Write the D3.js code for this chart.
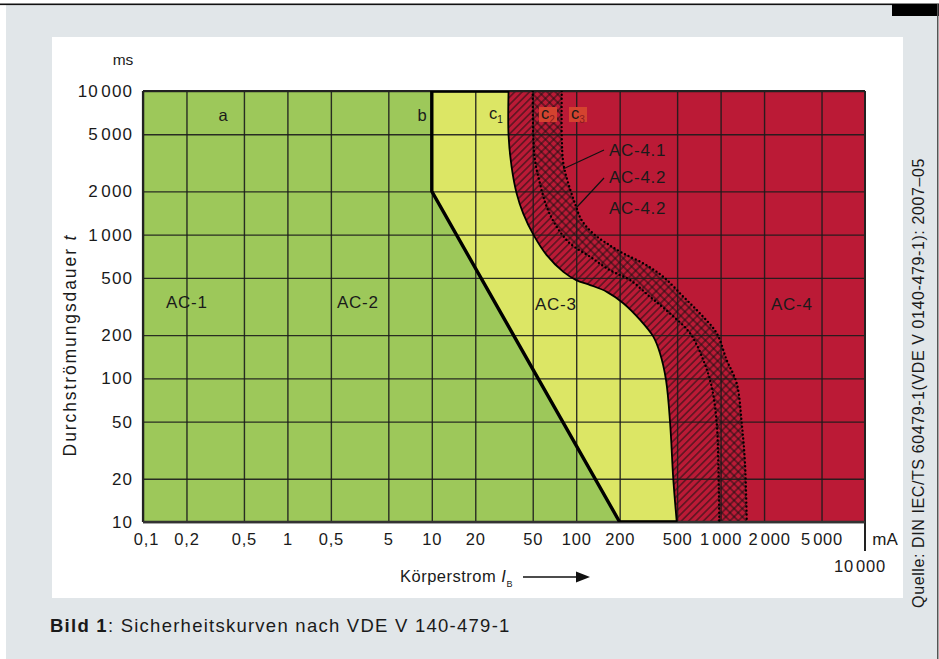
<!DOCTYPE html>
<html>
<head>
<meta charset="utf-8">
<script src="https://cdn.jsdelivr.net/npm/d3@7"></script>
<style>
body { margin: 0; background: #fff; }
svg { display: block; font-family: "Liberation Sans", Arial, sans-serif; }
</style>
</head>
<body>
<svg></svg>
<script>
// tick values and labels (the original repeats "0,5" where 2 would be)
var xTicks = [0.1, 0.2, 0.5, 1, 2, 5, 10, 20, 50, 100, 200, 500, 1000, 2000, 5000];
var xTickLabels = ["0,1", "0,2", "0,5", "1", "0,5", "5", "10", "20", "50", "100", "200", "500", "1\u200a000", "2\u200a000", "5\u200a000"];
var yTicks = [10, 20, 50, 100, 200, 500, 1000, 2000, 5000, 10000];
var yTickLabels = ["10", "20", "50", "100", "200", "500", "1\u200a000", "2\u200a000", "5\u200a000", "10\u200a000"];

// curves, [current mA, duration ms]
var curveB = [[10, 10000], [10, 2000], [200, 10]];
var curveC1 = [[34, 10000], [34, 4900], [35.7, 2960], [38.7, 1930], [43, 1400], [50.5, 1000], [62.5, 720],
	[81.5, 551], [100, 483], [125, 446], [163, 400], [212, 333], [277, 255], [342, 195], [380, 150],
	[419, 97], [447, 49], [470, 20], [497, 10]];
var curveC2 = [[50, 10000], [50.5, 4790], [51.8, 3300], [56.1, 2270], [62.5, 1560], [73.3, 1133], [90.6, 869],
	[125, 701], [171, 566], [236, 483], [324, 370], [446, 283], [614, 206], [759, 134], [867, 87.5],
	[940, 48.8], [964, 25.7], [980, 10]];
var curveC3 = [[79.4, 10000], [79.4, 4790], [81.5, 3130], [88.2, 2270], [98.1, 1648], [109, 1262], [131, 1019],
	[163, 869], [212, 740], [292, 631], [401, 509], [552, 370], [720, 283], [940, 206], [1102, 134],
	[1292, 92.5], [1400, 48.8], [1475, 25.7], [1517, 10]];

var width = 939, height = 659;
var plotLeft = 143, plotRight = 865, plotTop = 91, plotBottom = 522;
var green = "#9dc85a", yellow = "#dce665", red = "#bb1a36", grey = "#e1e6e9", ink = "#1a1a1a";

var svg = d3.select("svg").attr("width", width).attr("height", height);

var x = d3.scaleLog().domain([0.1, 10000]).range([plotLeft, plotRight]);
var y = d3.scaleLog().domain([10, 10000]).range([plotBottom, plotTop]);

drawFrame();
drawZones();
drawGrid();
drawCurves();
drawLabels();

// page background, white panel and the thin rules round it
function drawFrame() {
	svg.append("rect").attr("x", 6).attr("y", 4).attr("width", 931).attr("height", height - 4).attr("fill", grey);
	svg.append("rect").attr("x", 0).attr("y", 3.5).attr("width", width).attr("height", 1.6).attr("fill", "#111");
	svg.append("rect").attr("x", 892).attr("y", 4).attr("width", 47).attr("height", 12).attr("fill", "#000");
	svg.append("rect").attr("x", 937).attr("y", 4).attr("width", 1.5).attr("height", height).attr("fill", "#555");
	svg.append("rect").attr("x", 52).attr("y", 37).attr("width", 851).attr("height", 561).attr("fill", "#fff");
}

function pathOf(points, smooth) {
	var line = d3.line()
		.x(function(d) { return x(d[0]); })
		.y(function(d) { return y(d[1]); });
	if (smooth) line.curve(d3.curveCatmullRom.alpha(0.5));
	return line(points);
}

// continue a path with another one instead of starting a new subpath
function joined(a, b) {
	return a + "L" + b.slice(1);
}

function drawZones() {
	var defs = svg.append("defs");
	defs.append("clipPath").attr("id", "plotClip")
		.append("rect")
		.attr("x", plotLeft).attr("y", plotTop)
		.attr("width", plotRight - plotLeft).attr("height", plotBottom - plotTop);

	var hatch = defs.append("pattern").attr("id", "hatch")
		.attr("patternUnits", "userSpaceOnUse")
		.attr("width", 5.2).attr("height", 5.2)
		.attr("patternTransform", "rotate(45)");
	hatch.append("line").attr("x1", 2.6).attr("x2", 2.6).attr("y1", 0).attr("y2", 5.2)
		.attr("stroke", "#111").attr("stroke-width", 0.9);

	var cross = defs.append("pattern").attr("id", "cross")
		.attr("patternUnits", "userSpaceOnUse")
		.attr("width", 5.8).attr("height", 5.8)
		.attr("patternTransform", "rotate(45)");
	cross.append("line").attr("x1", 2.9).attr("x2", 2.9).attr("y1", 0).attr("y2", 5.8)
		.attr("stroke", "#111").attr("stroke-width", 0.9);
	cross.append("line").attr("x1", 0).attr("x2", 5.8).attr("y1", 2.9).attr("y2", 2.9)
		.attr("stroke", "#111").attr("stroke-width", 0.9);

	var zones = svg.append("g").attr("clip-path", "url(#plotClip)");

	zones.append("rect")
		.attr("x", plotLeft).attr("y", plotTop)
		.attr("width", plotRight - plotLeft).attr("height", plotBottom - plotTop)
		.attr("fill", green);

	var c1Back = pathOf(curveC1.slice().reverse(), true);
	var c2Back = pathOf(curveC2.slice().reverse(), true);
	var c3Back = pathOf(curveC3.slice().reverse(), true);

	// AC-3 between b and c1
	zones.append("path")
		.attr("d", joined(pathOf(curveB, false), c1Back) + "Z")
		.attr("fill", yellow);

	// AC-4 right of c1
	zones.append("path")
		.attr("d", joined(pathOf(curveC1, true), pathOf([[10000, 10], [10000, 10000]], false)) + "Z")
		.attr("fill", red);

	// AC-4.1 between c1 and c2, AC-4.2 between c2 and c3
	zones.append("path")
		.attr("d", joined(pathOf(curveC1, true), c2Back) + "Z")
		.attr("fill", "url(#hatch)");
	zones.append("path")
		.attr("d", joined(pathOf(curveC2, true), c3Back) + "Z")
		.attr("fill", "url(#cross)");
}

function drawGrid() {
	var xAxis = d3.axisBottom(x)
		.tickValues(xTicks)
		.tickSize(-(plotBottom - plotTop))
		.tickPadding(11)
		.tickFormat(function(d, i) { return xTickLabels[i]; });
	var gx = svg.append("g")
		.attr("transform", "translate(0," + plotBottom + ")")
		.call(xAxis);
	gx.select(".domain").remove();
	gx.selectAll("line").attr("stroke", "#1c1c1c").attr("stroke-width", 1.4).attr("stroke-opacity", 0.9);
	gx.selectAll("text")
		.attr("fill", ink)
		.attr("dx", function(d) { return d === 2000 ? 5 : (d === 0.1 ? 3 : 0); })
		.style("font-size", "16.5px")
		.style("letter-spacing", "0.8px");

	var yAxis = d3.axisLeft(y)
		.tickValues(yTicks)
		.tickSize(-(plotRight - plotLeft))
		.tickPadding(10)
		.tickFormat(function(d, i) { return yTickLabels[i]; });
	var gy = svg.append("g")
		.attr("transform", "translate(" + plotLeft + ",0)")
		.call(yAxis);
	gy.select(".domain").remove();
	gy.selectAll("line").attr("stroke", "#1c1c1c").attr("stroke-width", 1.4).attr("stroke-opacity", 0.9);
	gy.selectAll("text")
		.attr("fill", ink)
		.style("font-size", "17px")
		.style("letter-spacing", "1.1px");

	// frame of the plot
	var frame = svg.append("g").attr("stroke", "#222").attr("fill", "none");
	frame.append("line").attr("x1", plotLeft).attr("x2", plotLeft).attr("y1", plotTop).attr("y2", plotBottom).attr("stroke-width", 2.2);
	frame.append("line").attr("x1", plotLeft).attr("x2", plotRight).attr("y1", plotTop).attr("y2", plotTop).attr("stroke-width", 2);
	frame.append("line").attr("x1", plotRight).attr("x2", plotRight).attr("y1", plotTop).attr("y2", plotBottom + 29).attr("stroke-width", 2);
	frame.append("line").attr("x1", plotLeft).attr("x2", plotRight).attr("y1", plotBottom).attr("y2", plotBottom).attr("stroke-width", 2.4).attr("stroke", "#333");
}

function drawCurves() {
	var g = svg.append("g").attr("clip-path", "url(#plotClip)").attr("fill", "none");

	// outline of AC-3 along b, the top and the bottom edge
	g.append("path")
		.attr("d", pathOf([[curveC1[0][0], 10000]].concat(curveB).concat([curveC1[curveC1.length - 1]]), false))
		.attr("stroke", "#000").attr("stroke-width", 3.4).attr("stroke-linejoin", "miter");

	g.append("path")
		.attr("d", pathOf(curveC1, true))
		.attr("stroke", "#000").attr("stroke-width", 1.8);

	[curveC2, curveC3].forEach(function(c) {
		g.append("path")
			.attr("d", pathOf(c, true))
			.attr("stroke", "#000").attr("stroke-width", 2.4)
			.attr("stroke-linecap", "round")
			.attr("stroke-dasharray", "0 4");
	});
}

function label(px, py, txt, size, anchor) {
	return svg.append("text")
		.attr("x", px).attr("y", py)
		.attr("fill", ink)
		.attr("text-anchor", anchor || "start")
		.style("font-size", (size || 17) + "px")
		.text(txt);
}

function drawLabels() {
	label(123, 65, "ms", 15.5, "middle");
	label(885, 545, "mA", 17, "middle");
	label(860, 572, "10\u200a000", 16.5, "middle").style("letter-spacing", "0.8px");

	// zone letters
	label(223, 121, "a", 16.5, "middle");
	label(422, 121, "b", 16.5, "middle");
	var c1 = label(489, 119, "c", 16.5);
	c1.append("tspan").attr("dy", 4).style("font-size", "10px").text("1");

	[[539, "2"], [569, "3"]].forEach(function(d) {
		svg.append("rect").attr("x", d[0]).attr("y", 107).attr("width", 18).attr("height", 15).attr("fill", "#d4432f");
		var t = label(d[0] + 2, 119, "c", 16.5);
		t.append("tspan").attr("dy", 4).style("font-size", "10px").attr("fill", "#8a1a20").text(d[1]);
	});

	// zone names
	[[166, 308, "AC-1"], [337, 308, "AC-2"], [535, 310, "AC-3"], [771, 310, "AC-4"],
	 [609, 156, "AC-4.1"], [609, 183, "AC-4.2"], [609, 214, "AC-4.2"]].forEach(function(d) {
		label(d[0], d[1], d[2], 17).style("letter-spacing", "0.7px");
	});

	svg.append("line").attr("x1", 604).attr("y1", 150).attr("x2", 563).attr("y2", 169).attr("stroke", "#111").attr("stroke-width", 1.2);
	svg.append("line").attr("x1", 604).attr("y1", 178).attr("x2", 577).attr("y2", 207).attr("stroke", "#111").attr("stroke-width", 1.2);

	// axis titles
	var yt = svg.append("text")
		.attr("transform", "translate(76,345) rotate(-90)")
		.attr("text-anchor", "middle")
		.attr("fill", ink)
		.style("font-size", "17.5px")
		.style("letter-spacing", "1.9px");
	yt.append("tspan").text("Durchströmungsdauer ");
	yt.append("tspan").style("font-style", "italic").text("t");

	var xt = svg.append("text")
		.attr("x", 400).attr("y", 582)
		.attr("fill", ink)
		.style("font-size", "16.5px")
		.style("letter-spacing", "0.5px");
	xt.append("tspan").text("Körperstrom ");
	xt.append("tspan").style("font-style", "italic").text("I");
	xt.append("tspan").attr("dy", 5).style("font-size", "9px").text("B");

	svg.append("line").attr("x1", 523).attr("x2", 578).attr("y1", 577).attr("y2", 577).attr("stroke", "#111").attr("stroke-width", 1.4);
	svg.append("path").attr("d", "M576,571.5L590,577L576,582.5Z").attr("fill", "#111");

	// source, vertical at the right
	svg.append("text")
		.attr("transform", "translate(924,383) rotate(-90)")
		.attr("text-anchor", "middle")
		.attr("fill", ink)
		.style("font-size", "16px")
		.style("letter-spacing", "0.6px")
		.text("Quelle: DIN IEC/TS 60479-1(VDE V 0140-479-1): 2007–05");

	// caption
	var cap = svg.append("text")
		.attr("x", 50).attr("y", 632)
		.attr("fill", ink)
		.style("font-size", "18.5px")
		.style("letter-spacing", "1.25px");
	cap.append("tspan").style("font-weight", "bold").text("Bild 1");
	cap.append("tspan").text(": Sicherheitskurven nach VDE V 140-479-1");
}
</script>
</body>
</html>
